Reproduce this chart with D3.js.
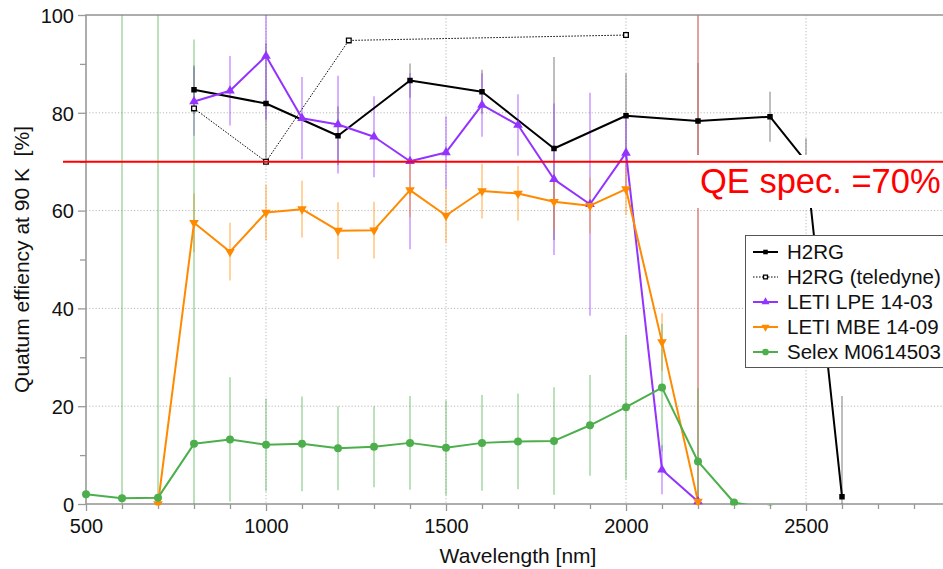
<!DOCTYPE html>
<html>
<head>
<meta charset="utf-8">
<script src="https://cdn.jsdelivr.net/npm/d3@7"></script>
<style>
  html, body { margin: 0; padding: 0; background: #fff; }
  svg { display: block; font-family: "Liberation Sans", Arial, Helvetica, sans-serif; }
</style>
</head>
<body>
<svg id="chart" width="943" height="569"></svg>
<script>
// ---------------- data ----------------
const xTicksMajor = [500, 1000, 1500, 2000, 2500];
const yTicksMajor = [0, 20, 40, 60, 80, 100];
const specValue = 70;
const specLabel = "QE spec. =70%";

const h2rgX   = [800, 1000, 1200, 1400, 1600, 1800, 2000, 2200, 2400, 2500, 2600];
const h2rgY   = [84.7, 81.9, 75.3, 86.6, 84.3, 72.7, 79.4, 78.3, 79.2, 70.0, 1.5];
const h2rgErr = [5, 12.3, 6, 3.5, 4.5, 18.7, 8.7, 11.9, 5.1, 4.8, 20.6];

const teledyneX = [800, 1000, 1230, 2000];
const teledyneY = [80.9, 70.0, 94.8, 95.9];

const lpeX   = [800, 900, 1000, 1100, 1200, 1300, 1400, 1500, 1600, 1700, 1800, 1900, 2000, 2100, 2200];
const lpeY   = [82.3, 84.5, 91.6, 78.9, 77.6, 75.1, 70.1, 71.9, 81.6, 77.5, 66.4, 61.3, 71.8, 7.0, 0.5];
const lpeErr = [7, 7.1, 13, 8.4, 10, 8.3, 18, 7.4, 6.5, 6.3, 15.5, 22.8, 7, 5, 100];

const mbeX   = [700, 800, 900, 1000, 1100, 1200, 1300, 1400, 1500, 1600, 1700, 1800, 1900, 2000, 2100, 2200];
const mbeY   = [0, 57.5, 51.6, 59.6, 60.3, 55.9, 56.0, 64.2, 59.0, 64.0, 63.5, 61.8, 61.0, 64.4, 33.1, 0.5];
const mbeErr = [0, 6, 5.9, 5.7, 5.8, 5.8, 5.8, 5.5, 5.6, 5.6, 5.6, 5.8, 5.7, 5.3, 5.9, 100];

const selexX   = [500, 600, 700, 800, 900, 1000, 1100, 1200, 1300, 1400, 1500, 1600, 1700, 1800, 1900, 2000, 2100, 2200, 2300, 2400];
const selexY   = [2.0, 1.2, 1.3, 12.3, 13.2, 12.1, 12.3, 11.4, 11.7, 12.5, 11.5, 12.5, 12.8, 12.9, 16.1, 19.8, 23.8, 8.7, 0.3, -1];
const selexErr = [0, 100, 100, 82.7, 12.7, 9.5, 9.7, 8.6, 8.3, 9.6, 9.7, 9.8, 9.8, 11, 10.3, 14.8, 13, 15, 0, 0];

const seriesNames = ["H2RG", "H2RG (teledyne)", "LETI LPE 14-03", "LETI MBE 14-09", "Selex M0614503"];

// ---------------- build ----------------
const colors = {
  h2rg: "#000000", teledyne: "#000000", lpe: "#9233ff", mbe: "#ff8a00", selex: "#4caf4c"
};
const series = [
  {name: seriesNames[0], xs: h2rgX, ys: h2rgY, err: h2rgErr, color: colors.h2rg, errColor: "#555", sym: "square", dash: null, width: 2},
  {name: seriesNames[1], xs: teledyneX, ys: teledyneY, err: null, color: colors.teledyne, sym: "opensquare", dash: "1.5,1.5", width: 1},
  {name: seriesNames[2], xs: lpeX, ys: lpeY, err: lpeErr, color: colors.lpe, errColor: colors.lpe, sym: "triup", dash: null, width: 2},
  {name: seriesNames[3], xs: mbeX, ys: mbeY, err: mbeErr, color: colors.mbe, errColor: colors.mbe, sym: "tridown", dash: null, width: 2},
  {name: seriesNames[4], xs: selexX, ys: selexY, err: selexErr, color: colors.selex, errColor: colors.selex, sym: "circle", dash: null, width: 2}
];
series.forEach(s => { s.pts = s.xs.map((x, i) => ({x, y: s.ys[i], e: s.err ? s.err[i] : 0})); });

const L = 86, R = 950, T = 15, B = 504;
const x = d3.scaleLinear().domain([500, 2900]).range([L, R]);
const y = d3.scaleLinear().domain([0, 100]).range([B, T]);

const svg = d3.select("#chart");
const defs = svg.append("defs");
defs.append("clipPath").attr("id", "clip")
  .append("rect").attr("x", L).attr("y", T).attr("width", R - L).attr("height", B - T);
defs.append("clipPath").attr("id", "clipm")
  .append("rect").attr("x", L - 6).attr("y", T - 6).attr("width", R - L + 12).attr("height", B - T + 7.5);

// grid
const grid = svg.append("g");
grid.selectAll("line.gy").data([20, 40, 60, 80]).join("line")
  .attr("x1", L).attr("x2", R).attr("y1", d => y(d)).attr("y2", d => y(d))
  .attr("stroke", "#b8b8b8").attr("stroke-width", 1).attr("stroke-dasharray", "1.2,2");
grid.selectAll("line.gx").data([1000, 1500, 2000, 2500]).join("line")
  .attr("y1", T).attr("y2", B).attr("x1", d => x(d)).attr("x2", d => x(d))
  .attr("stroke", "#b8b8b8").attr("stroke-width", 1).attr("stroke-dasharray", "1.2,2");

// axes
const axisColor = "#999";
const yMinor = d3.range(10, 100, 20);
const xMinor = d3.range(500, 2900, 100).filter(v => v % 500 !== 0);
const gy = svg.append("g").attr("transform", `translate(${L},0)`)
  .call(d3.axisLeft(y).tickValues(yTicksMajor).tickSize(8).tickPadding(4).tickFormat(d3.format("d")));
const gyMinor = svg.append("g").attr("transform", `translate(${L},0)`)
  .call(d3.axisLeft(y).tickValues(yMinor).tickSize(6).tickFormat(""));
const gx = svg.append("g").attr("transform", `translate(0,${B})`)
  .call(d3.axisBottom(x).tickValues(xTicksMajor).tickSize(7).tickPadding(8).tickFormat(d3.format("d")));
const gxMinor = svg.append("g").attr("transform", `translate(0,${B})`)
  .call(d3.axisBottom(x).tickValues(xMinor).tickSize(5).tickFormat(""));
[gy, gyMinor, gx, gxMinor].forEach(g => {
  g.select(".domain").remove();
  g.selectAll(".tick line").attr("stroke", axisColor).attr("stroke-width", 1.3);
  g.selectAll(".tick text").attr("fill", "#111").style("font-size", "20px")
    .style("font-family", "'Liberation Sans', Arial, Helvetica, sans-serif");
});
gy.selectAll(".tick text").attr("dy", "0.36em");

svg.append("rect").attr("x", L).attr("y", T).attr("width", R - L).attr("height", B - T)
  .attr("fill", "none").attr("stroke", axisColor).attr("stroke-width", 1.6);

// plot content
const plot = svg.append("g").attr("clip-path", "url(#clip)");

// error bars
series.filter(s => s.err).forEach(s => {
  plot.append("g").selectAll("line").data(s.pts.filter(p => p.e > 0)).join("line")
    .attr("x1", p => x(p.x)).attr("x2", p => x(p.x))
    .attr("y1", p => y(p.y + p.e)).attr("y2", p => y(p.y - p.e))
    .attr("stroke", s.errColor).attr("stroke-opacity", 0.38).attr("stroke-width", 2);
});

// lines
const lineGen = d3.line().x(p => x(p.x)).y(p => y(p.y));
series.forEach(s => {
  plot.append("path").datum(s.pts).attr("d", lineGen)
    .attr("fill", "none").attr("stroke", s.color).attr("stroke-width", s.width)
    .attr("stroke-dasharray", s.dash).attr("stroke-linejoin", "round");
});

// markers
function drawMarker(g, sym, color, cx, cy, scale = 1) {
  if (sym === "square") {
    g.append("path").attr("d", d3.symbol(d3.symbolSquare, 30 * scale)()).attr("transform", `translate(${cx},${cy})`).attr("fill", color);
  } else if (sym === "opensquare") {
    g.append("path").attr("d", d3.symbol(d3.symbolSquare, 22 * scale)()).attr("transform", `translate(${cx},${cy})`)
      .attr("fill", "#fff").attr("stroke", color).attr("stroke-width", 1.3);
  } else if (sym === "triup") {
    g.append("path").attr("d", d3.symbol(d3.symbolTriangle, 40 * scale)()).attr("transform", `translate(${cx},${cy})`).attr("fill", color);
  } else if (sym === "tridown") {
    g.append("path").attr("d", d3.symbol(d3.symbolTriangle, 40 * scale)()).attr("transform", `translate(${cx},${cy}) rotate(180)`).attr("fill", color);
  } else if (sym === "circle") {
    g.append("circle").attr("cx", cx).attr("cy", cy).attr("r", 4 * Math.sqrt(scale)).attr("fill", color);
  }
}
series.forEach(s => {
  const g = svg.append("g").attr("clip-path", "url(#clipm)");
  s.pts.forEach(p => drawMarker(g, s.sym, s.color, x(p.x), y(p.y)));
});

// spec label box + spec line
svg.append("rect").attr("x", 695).attr("y", 155).attr("width", 260).attr("height", 53).attr("fill", "#fff");
svg.append("line").attr("x1", 63).attr("x2", 943).attr("y1", y(specValue)).attr("y2", y(specValue))
  .attr("stroke", "#ff0000").attr("stroke-width", 2);
svg.append("text").attr("x", 700).attr("y", 193).text(specLabel)
  .attr("fill", "#ff0000").style("font-size", "34.5px");

// legend
const lg = svg.append("g");
lg.append("rect").attr("x", 745.5).attr("y", 235.5).attr("width", 230).attr("height", 132)
  .attr("fill", "#fff").attr("stroke", "#555").attr("stroke-width", 1);
series.forEach((s, i) => {
  const cy = 252 + i * 25;
  lg.append("line").attr("x1", 753).attr("x2", 778).attr("y1", cy).attr("y2", cy)
    .attr("stroke", s.color).attr("stroke-width", s.width).attr("stroke-dasharray", s.dash);
  drawMarker(lg, s.sym, s.color, 765.5, cy, 0.7);
  lg.append("text").attr("x", 787).attr("y", cy).attr("dy", "0.36em").text(s.name)
    .attr("fill", "#111").style("font-size", "20.5px");
});

// axis titles
svg.append("text").attr("x", (L + R) / 2).attr("y", 563).attr("text-anchor", "middle")
  .text("Wavelength [nm]").attr("fill", "#111").style("font-size", "21px");
svg.append("text").attr("transform", `translate(29,${(T + B) / 2}) rotate(-90)`).attr("text-anchor", "middle")
  .attr("xml:space", "preserve").style("white-space", "pre")
  .text("Quatum effiency at 90 K  [%]").attr("fill", "#111").style("font-size", "21px");
</script>
</body>
</html>
